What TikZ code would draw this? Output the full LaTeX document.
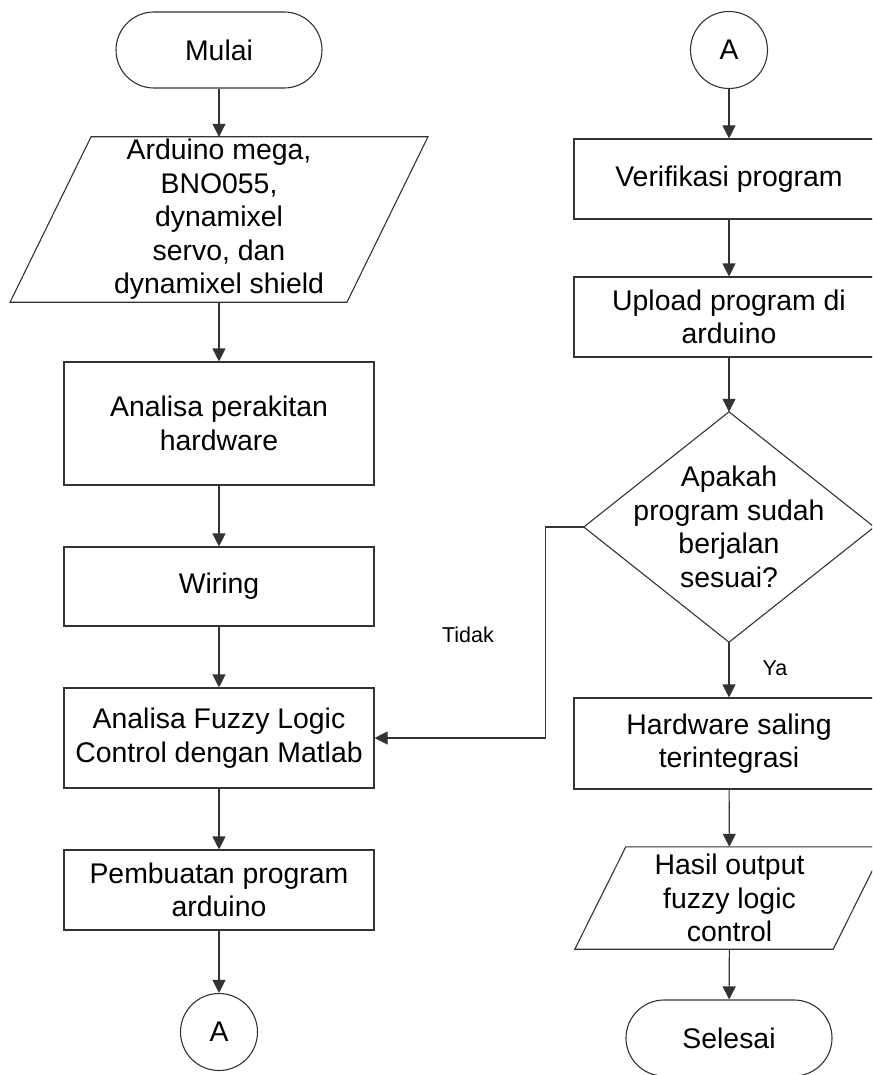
\documentclass[tikz,border=0pt]{standalone}
\usepackage{fontspec}
\setmainfont{Liberation Sans}
\usetikzlibrary{arrows.meta,calc}
\begin{document}
\begin{tikzpicture}[x=1pt,y=-1pt,
  base/.style={inner sep=0pt, align=center, font=\fontsize{28.4}{33.5}\selectfont},
  shp/.style={draw=black!80, line width=1.1pt},
  term/.style={base, shp, rectangle, rounded corners=38pt, minimum width=206pt, minimum height=76pt},
  procbox/.style={base, shp, rectangle, minimum width=310pt},
  conn/.style={base, shp, circle, minimum size=77pt},
  ghost/.style={base, rectangle},
  arr/.style={draw=black!80, line width=1.1pt, -{Triangle[width=13pt,length=13pt]}},
  lbl/.style={inner sep=0pt, font=\fontsize{21.5}{24}\selectfont}
]
\useasboundingbox (0,0) rectangle (872,1075);
\clip (0,0) rectangle (872,1075);
% left column
\node[term] (mulai) at (219,50) {Mulai};
\node[ghost, minimum width=336.5pt, minimum height=165pt] (in1) at (219,219.5)
  {Arduino mega,\\BNO055,\\dynamixel\\servo, dan\\dynamixel shield};
\draw[shp] ($(in1.north west)+(40.5,0)$) -- ($(in1.north east)+(40.5,0)$)
  -- ($(in1.south east)+(-40.5,0)$) -- ($(in1.south west)+(-40.5,0)$) -- cycle;
\node[procbox, minimum height=123pt] (per) at (219,423.5) {Analisa perakitan\\hardware};
\node[procbox, minimum height=79pt] (wir) at (219,586.5) {Wiring};
\node[procbox, minimum height=100pt] (fuz) at (219,738) {Analisa Fuzzy Logic\\Control dengan Matlab};
\node[procbox, minimum height=80pt] (pem) at (219,890) {Pembuatan program\\arduino};
\node[conn] (a1) at (219,1032) {A};
% right column
\node[conn] (a2) at (729,50) {A};
\node[procbox, minimum height=80pt] (ver) at (729,179) {Verifikasi program};
\node[procbox, minimum height=80pt] (upl) at (729,317) {Upload program di\\arduino};
\node[ghost, minimum width=290pt, minimum height=230pt] (dec) at (729,527)
  {Apakah\\program sudah\\berjalan\\sesuai?};
\draw[shp] (dec.north) -- (dec.east) -- (dec.south) -- (dec.west) -- cycle;
\node[procbox, minimum height=91pt] (hw) at (729,743.5) {Hardware saling\\terintegrasi};
\node[ghost, minimum width=258pt, minimum height=102pt] (out) at (729.5,898)
  {Hasil output\\fuzzy logic\\control};
\draw[shp] ($(out.north west)+(25.5,0)$) -- ($(out.north east)+(25.5,0)$)
  -- ($(out.south east)+(-25.5,0)$) -- ($(out.south west)+(-25.5,0)$) -- cycle;
\node[term] (sel) at (729,1038) {Selesai};
% connectors
\draw[arr] (mulai) -- (in1);
\draw[arr] (in1) -- (per);
\draw[arr] (per) -- (wir);
\draw[arr] (wir) -- (fuz);
\draw[arr] (fuz) -- (pem);
\draw[arr] (pem) -- (a1);
\draw[arr] (a2) -- (ver);
\draw[arr] (ver) -- (upl);
\draw[arr] (upl) -- (dec.north);
\draw[arr] (dec.south) -- (hw);
\draw[arr] (hw) -- (out);
\draw[arr] (out) -- (sel);
\draw[arr] (dec.west) -- ++(-38,0) |- (fuz.east);
% labels
\node[lbl] (tidak) at (468,635) {Tidak};
\node[lbl] (ya) at (775,668) {Ya};
\end{tikzpicture}
\end{document}
